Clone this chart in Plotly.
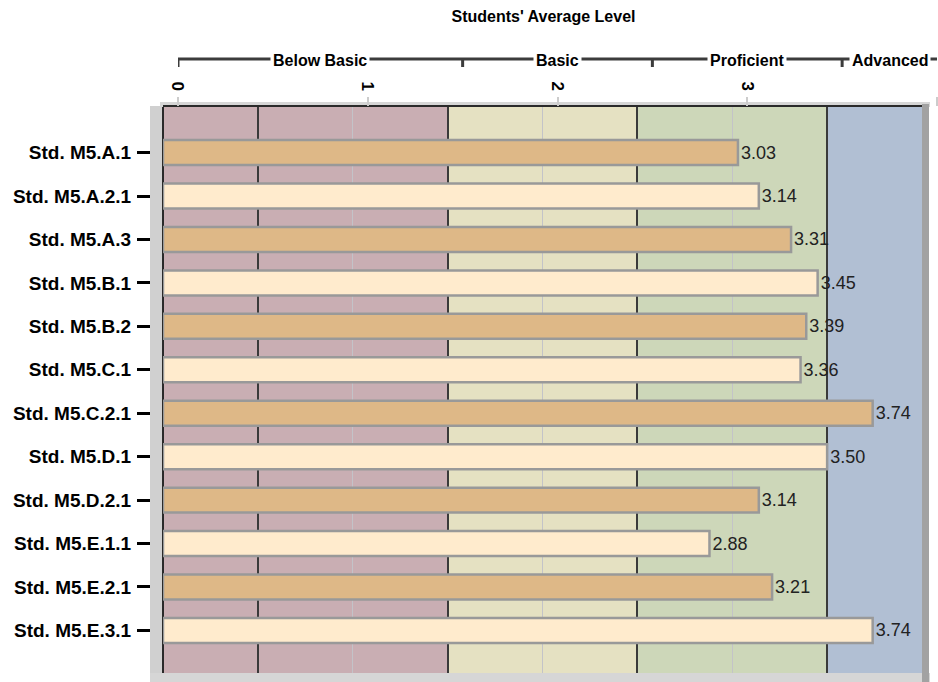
import plotly.graph_objects as go

# ---- data ----
standards = [
    "Std. M5.A.1", "Std. M5.A.2.1", "Std. M5.A.3", "Std. M5.B.1",
    "Std. M5.B.2", "Std. M5.C.1", "Std. M5.C.2.1", "Std. M5.D.1",
    "Std. M5.D.2.1", "Std. M5.E.1.1", "Std. M5.E.2.1", "Std. M5.E.3.1",
]
scores = [3.03, 3.14, 3.31, 3.45, 3.39, 3.36, 3.74, 3.50, 3.14, 2.88, 3.21, 3.74]

level_names = ["Below Basic", "Basic", "Proficient", "Advanced"]
level_edges = [0, 1.5, 2.5, 3.5, 4]
level_ticks = [0, 1, 2, 3, 4]

# ---- styling ----
W, H = 938, 682
ML, MR, MT, MB = 150, 1, 107, 9
PW, PH = W - ML - MR, H - MT - MB

def px_x(px):
    return (px - ML) / PW

def px_y(py):
    return (H - MB - py) / PH

band_colors = ["#C9AEB3", "#E5E1C2", "#CDD7B9", "#B1BFD3"]
bar_colors = ["#DEB887" if i % 2 == 0 else "#FFEBCD" for i in range(len(scores))]
FAMILY = "Liberation Sans, Arial"
head_font = dict(family=FAMILY, size=16, color="#000000", weight="bold")
tick_font = dict(family=FAMILY, size=17, color="#000000", weight="bold")
ylab_font = dict(family=FAMILY, size=19, color="#000000", weight="bold")

fig = go.Figure()

fig.add_trace(go.Bar(
    x=scores,
    y=standards,
    orientation="h",
    marker=dict(color=bar_colors, line=dict(color="#999999", width=2.5)),
    text=[f"{v:.2f}" for v in scores],
    textposition="outside",
    textfont=dict(family="Liberation Sans, Arial", size=18, color="#222222"),
    constraintext="none",
    cliponaxis=False,
    hoverinfo="x+y",
    showlegend=False,
))

# invisible helper so the offset top scale is laid out
fig.add_trace(go.Scatter(
    x=scores, y=standards, xaxis="x2", mode="markers",
    marker=dict(opacity=0), hoverinfo="skip", showlegend=False,
))

shapes = []
# performance level bands
for name, x0, x1, col in zip(level_names, level_edges[:-1], level_edges[1:], band_colors):
    shapes.append(dict(type="rect", xref="x", yref="y domain", x0=x0, x1=x1, y0=0, y1=1,
                       fillcolor=col, line=dict(width=0), layer="below"))

# frame: left wall, floor, top rim, right wall
shapes.append(dict(type="rect", xref="paper", yref="paper", x0=0, x1=px_x(163),
                   y0=px_y(682), y1=px_y(106), fillcolor="#d0d0d0", line=dict(width=0), layer="below"))
shapes.append(dict(type="rect", xref="paper", yref="paper", x0=0, x1=px_x(930),
                   y0=px_y(682), y1=px_y(673), fillcolor="#d6d6d6", line=dict(width=0), layer="below"))
shapes.append(dict(type="rect", xref="paper", yref="paper", x0=px_x(160), x1=px_x(930),
                   y0=px_y(107), y1=px_y(102), fillcolor="#d6d6d6", line=dict(width=0), layer="below"))
shapes.append(dict(type="rect", xref="paper", yref="paper", x0=px_x(922), x1=px_x(929),
                   y0=px_y(682), y1=px_y(104), fillcolor="#a2a2a2", line=dict(width=0), layer="above"))

# level bracket above the scale
y_br, y_br_tick = px_y(59), px_y(67)
shapes.append(dict(type="line", xref="x2", yref="paper", x0=level_edges[0], x1=level_edges[-1],
                   y0=y_br, y1=y_br, line=dict(color="#3c3c3c", width=3)))
for e in level_edges[:-1]:
    shapes.append(dict(type="line", xref="x2", yref="paper", x0=e, x1=e,
                       y0=y_br, y1=y_br_tick, line=dict(color="#3c3c3c", width=3)))

annotations = []
for name, x0, x1 in zip(level_names, level_edges[:-1], level_edges[1:]):
    annotations.append(dict(text=name, xref="x2", yref="paper", x=(x0 + x1) / 2,
                            y=px_y(60), showarrow=False, font=head_font,
                            bgcolor="#ffffff", borderpad=2, xanchor="center", yanchor="middle"))

fig.update_layout(
    width=W, height=H,
    margin=dict(l=ML, r=MR, t=MT, b=MB, pad=0),
    paper_bgcolor="#ffffff",
    plot_bgcolor="rgba(0,0,0,0)",
    bargap=0.425,
    title=dict(text="Students' Average Level", font=head_font,
               x=0.5, xref="paper", xanchor="center",
               y=1 - 16 / H, yref="container", yanchor="middle"),
    xaxis=dict(
        domain=[px_x(163), px_x(922)], range=[0, 4], side="top", anchor="y",
        showticklabels=False, ticks="",
        tick0=0, dtick=1, showgrid=True, gridcolor="#c3c3c8", gridwidth=1,
        minor=dict(tick0=0.5, dtick=1, showgrid=True, gridcolor="#3a3a3a", gridwidth=2, ticks=""),
        zeroline=True, zerolinecolor="#2a2a2a", zerolinewidth=2,
        showline=True, linecolor="#2a2a2a", linewidth=2, mirror=False,
        fixedrange=True,
    ),
    xaxis2=dict(
        domain=[px_x(178), 1.0], range=[0, 4], side="top", anchor="y",
        tickmode="array", tickvals=level_ticks, ticktext=[str(t) for t in level_ticks],
        tickangle=90, ticks="outside", ticklen=9, tickwidth=2, tickcolor="#cccccc",
        tickfont=tick_font, showgrid=False, zeroline=False, showline=False,
        fixedrange=True,
    ),
    yaxis=dict(
        type="category", categoryorder="array", categoryarray=standards,
        range=[11.98, -1.05], anchor="free", position=0,
        ticks="outside", ticklen=13, tickwidth=3, tickcolor="#000000",
        tickfont=ylab_font, ticklabelstandoff=2,
        showgrid=False, zeroline=False, showline=False, fixedrange=True,
    ),
    shapes=shapes,
    annotations=annotations,
)

fig.write_html("out.html")
